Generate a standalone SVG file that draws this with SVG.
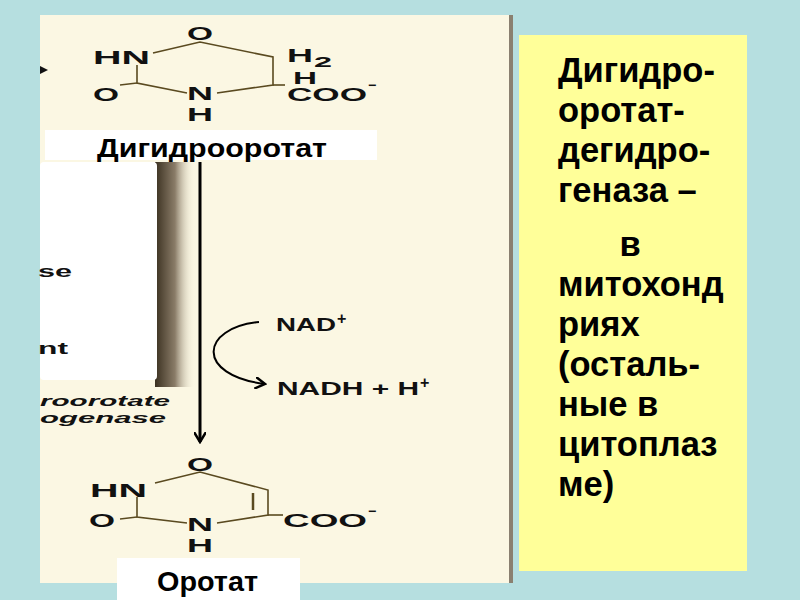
<svg xmlns="http://www.w3.org/2000/svg" width="800" height="600" viewBox="0 0 800 600">
<defs>
<style>
.c{font-family:"Liberation Sans",Arial,sans-serif;font-weight:bold;fill:#111}
.b{stroke:#5a4a20;stroke-width:1.6;fill:none}
.r{font-family:"Liberation Sans",Arial,sans-serif;font-weight:bold;font-size:34.5px;fill:#000}
</style>
<linearGradient id="sh" x1="0" x2="1" y1="0" y2="0"><stop offset="0" stop-color="#3a3020"/><stop offset="0.5" stop-color="#8a7c68"/><stop offset="1" stop-color="#fbf7e3" stop-opacity="0"/></linearGradient>
<marker id="ah" markerWidth="12" markerHeight="12" refX="10" refY="6" orient="auto" markerUnits="userSpaceOnUse"><path d="M0,0 L10,6 L0,12" fill="none" stroke="#000" stroke-width="2.5"/></marker>
</defs>
<rect width="800" height="600" fill="#b6dfe0"/>
<rect x="40" y="15" width="473" height="568" fill="#fbf7e3"/>
<rect x="509" y="15" width="4" height="568" fill="#8a8070"/>
<rect x="155" y="162" width="40" height="225" fill="url(#sh)"/>
<rect x="40" y="162" width="117" height="218" rx="4" fill="#fff"/>
<g class="c" font-size="17">
<text x="38" y="277" textLength="34" lengthAdjust="spacingAndGlyphs">se</text><text x="38" y="354" textLength="30" lengthAdjust="spacingAndGlyphs">nt</text>
</g>
<g class="c" font-size="14" font-style="italic" fill="#444">
<text x="40" y="406" textLength="130" lengthAdjust="spacingAndGlyphs">roorotate</text>
<text x="40" y="423" textLength="126" lengthAdjust="spacingAndGlyphs">ogenase</text>
</g>
<path d="M40,66 L48,70 L40,74Z" fill="#111"/>
<g id="dihydroorotate">
<g class="b"><path d="M153,53 L200,42 L273,57 L273,85 L217,93"/><path d="M187,93 L137,83 L137,65"/><path d="M137,83 L120,85"/><path d="M273,85 L285,85"/></g>
<g class="c" font-size="19">
<text x="187" y="40" textLength="26" lengthAdjust="spacingAndGlyphs">O</text>
<text x="93" y="64" textLength="57" lengthAdjust="spacingAndGlyphs">HN</text>
<text x="287" y="62" textLength="26" lengthAdjust="spacingAndGlyphs">H</text><text x="314" y="67" font-size="14" textLength="18" lengthAdjust="spacingAndGlyphs">2</text>
<text x="293" y="84" font-size="17" textLength="24" lengthAdjust="spacingAndGlyphs">H</text>
<text x="93" y="101" textLength="26" lengthAdjust="spacingAndGlyphs">O</text>
<text x="187" y="100" textLength="26" lengthAdjust="spacingAndGlyphs">N</text>
<text x="187" y="121" textLength="26" lengthAdjust="spacingAndGlyphs">H</text>
<text x="287" y="101" textLength="80" lengthAdjust="spacingAndGlyphs">COO</text><text x="368" y="90" font-size="14">−</text>
</g>
<rect x="45" y="130" width="332" height="30" fill="#fff"/>
<text x="97" y="157" textLength="230" lengthAdjust="spacingAndGlyphs" font-family="Liberation Sans,Arial,sans-serif" font-weight="bold" font-size="26">Дигидрооротат</text>
</g>
<g id="connectors" stroke="#000" fill="none" stroke-width="3">
<line x1="200" y1="162" x2="200" y2="442" marker-end="url(#ah)"/>
<path d="M259,322 C200,328 195,375 265,384" stroke-width="2" marker-end="url(#ah)"/>
</g>
<g id="cofactors" class="c" font-size="18">
<text x="276" y="331" textLength="60" lengthAdjust="spacingAndGlyphs">NAD</text><text x="337" y="324" font-size="16">+</text>
<text x="277" y="395" textLength="142" lengthAdjust="spacingAndGlyphs">NADH  +  H</text><text x="420" y="388" font-size="16">+</text>
</g>
<g id="orotate">
<g class="b"><path d="M155,483 L200,472 L268,490 L268,515 L217,523"/><path d="M253,493 L253,510" stroke-width="2.5"/><path d="M187,523 L137,517 L137,497"/><path d="M137,517 L120,519"/><path d="M268,515 L283,515"/></g>
<g class="c" font-size="19">
<text x="187" y="471" textLength="26" lengthAdjust="spacingAndGlyphs">O</text>
<text x="90" y="497" textLength="57" lengthAdjust="spacingAndGlyphs">HN</text>
<text x="89" y="527" textLength="26" lengthAdjust="spacingAndGlyphs">O</text>
<text x="187" y="531" textLength="26" lengthAdjust="spacingAndGlyphs">N</text>
<text x="187" y="552" textLength="26" lengthAdjust="spacingAndGlyphs">H</text>
<text x="283" y="527" textLength="84" lengthAdjust="spacingAndGlyphs">COO</text><text x="368" y="516" font-size="14">−</text>
</g>
<rect x="117" y="558" width="183" height="42" fill="#fff"/>
<text x="157" y="591" textLength="101" lengthAdjust="spacingAndGlyphs" font-family="Liberation Sans,Arial,sans-serif" font-weight="bold" font-size="28">Оротат</text>
</g>
<g id="note">
<rect x="519" y="35" width="228" height="536" fill="#ffff99"/>
<g class="r">
<text x="558" y="82">Дигидро-</text><text x="558" y="122">оротат-</text><text x="558" y="162">дегидро-</text><text x="558" y="202">геназа –</text>
<text x="630" y="256" text-anchor="middle">в</text>
<text x="558" y="296">митохонд</text><text x="558" y="336">риях</text><text x="558" y="376">(осталь-</text><text x="558" y="416">ные в</text><text x="558" y="456">цитоплаз</text><text x="558" y="496">ме)</text>
</g>
</g>
</svg>
